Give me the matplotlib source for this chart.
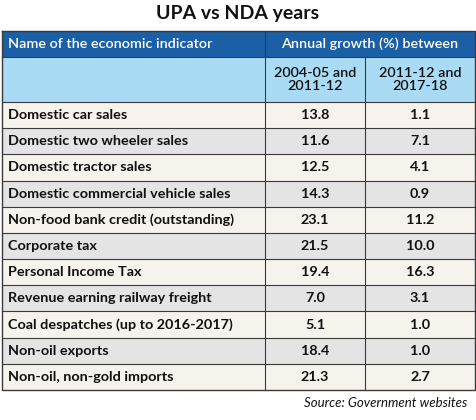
import matplotlib
matplotlib.use("Agg")
import matplotlib.pyplot as plt
from matplotlib.patches import Rectangle

title = "UPA vs NDA years"
col_header = ["Name of the economic indicator", "Annual growth (%) between"]
sub_header = ["2004-05 and\n2011-12", "2011-12 and\n2017-18"]
indicators = ["Domestic car sales", "Domestic two wheeler sales", "Domestic tractor sales",
              "Domestic commercial vehicle sales", "Non-food bank credit (outstanding)",
              "Corporate tax", "Personal Income Tax", "Revenue earning railway freight",
              "Coal despatches (up to 2016-2017)", "Non-oil exports", "Non-oil, non-gold imports"]
upa = ["13.8", "11.6", "12.5", "14.3", "23.1", "21.5", "19.4", "7.0", "5.1", "18.4", "21.3"]
nda = ["1.1", "7.1", "4.1", "0.9", "11.2", "10.0", "16.3", "3.1", "1.0", "1.0", "2.7"]
source = "Source: Government websites"

plt.rcParams['font.family'] = ['Lato', 'DejaVu Sans']
fig = plt.figure(figsize=(4.77, 4.2), dpi=100)
ax = fig.add_axes([0, 0, 1, 1])
ax.set_xlim(0, 477); ax.set_ylim(420, 0); ax.axis('off')

L, R, c1, c2 = 2, 475, 265, 365
top, h1, h2 = 31, 57, 102
rh = (390 - h2) / len(indicators)
fs = 10.4

ax.text(238, 14, title, ha='center', va='center', fontsize=14, fontweight='bold', color='#111111')
ax.add_patch(Rectangle((L, top), R-L, h1-top, fc='#1b5fa6', ec='none'))
ax.add_patch(Rectangle((L, h1), R-L, h2-h1, fc='#a9dcf4', ec='none'))
ax.text(8, (top+h1)/2, col_header[0], ha='left', va='center', fontsize=fs, color='white', fontweight='semibold')
ax.text((c1+R)/2, (top+h1)/2, col_header[1], ha='center', va='center', fontsize=fs, color='white', fontweight='semibold')
ax.text((c1+c2)/2, (h1+h2)/2, sub_header[0], ha='center', va='center', fontsize=fs, color='#111111', linespacing=1.1, fontweight='semibold')
ax.text((c2+R)/2, (h1+h2)/2, sub_header[1], ha='center', va='center', fontsize=fs, color='#111111', linespacing=1.1, fontweight='semibold')

for i, (name, a, b) in enumerate(zip(indicators, upa, nda)):
    y = h2 + i*rh
    ax.add_patch(Rectangle((L, y), R-L, rh, fc='#f6f2ec' if i % 2 == 0 else '#e4e4e4', ec='none'))
    yc = y + rh/2
    ax.text(8, yc, name, ha='left', va='center', fontsize=fs, fontweight='bold', color='#111111')
    ax.text((c1+c2)/2, yc, a, ha='center', va='center', fontsize=fs, fontweight='bold', color='#111111')
    ax.text((c2+R)/2, yc, b, ha='center', va='center', fontsize=fs, fontweight='bold', color='#111111')
    ax.plot([L, R], [y, y], color='#3a3a3a', lw=0.8)

lc = '#3a3a3a'
ax.plot([L, R, R, L, L], [top, top, 390, 390, top], color=lc, lw=1)
ax.plot([L, R], [h1, h1], color=lc, lw=0.8)
ax.plot([c1, c1], [top, 390], color=lc, lw=0.8)
ax.plot([c2, c2], [h1, 390], color=lc, lw=0.8)
ax.text(467, 403, source, ha='right', va='center', fontsize=9.5, style='italic', color='#111111')
fig.savefig('out.png', dpi=100)
